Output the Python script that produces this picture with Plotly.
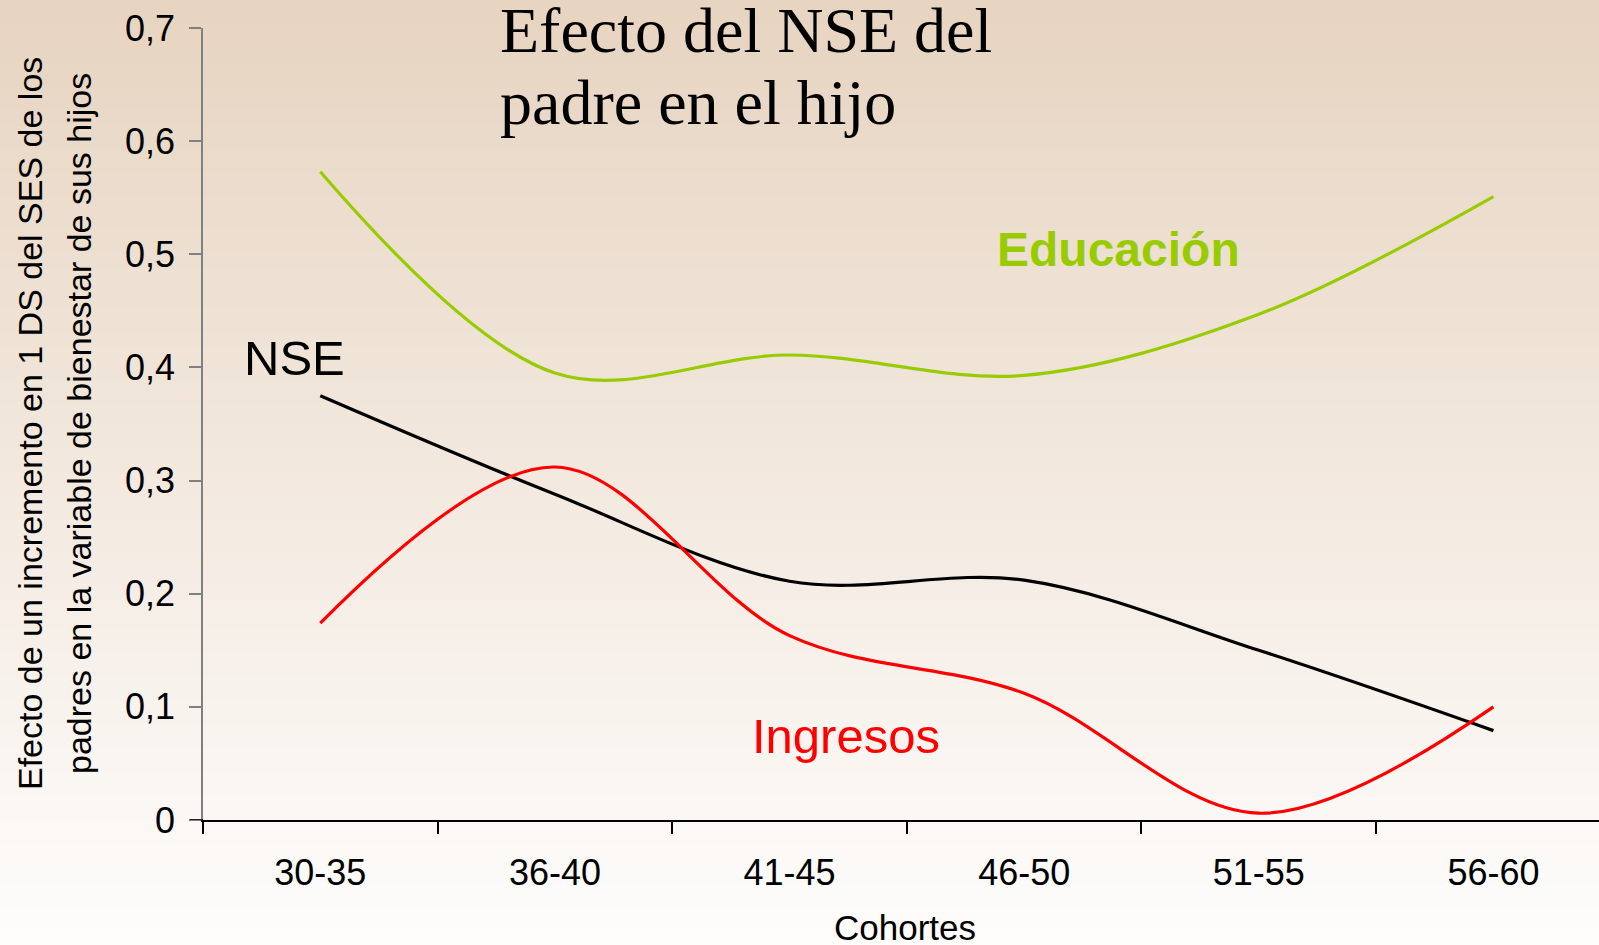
import plotly.graph_objects as go

cohortes = ["30-35", "36-40", "41-45", "46-50", "51-55", "56-60"]
educacion = [0.573, 0.395, 0.411, 0.393, 0.447, 0.551]
nse = [0.375, 0.288, 0.211, 0.212, 0.150, 0.079]
ingresos = [0.174, 0.312, 0.163, 0.112, 0.006, 0.100]

y_ticks = [0, 0.1, 0.2, 0.3, 0.4, 0.5, 0.6, 0.7]
y_ticktext = ["0", "0,1", "0,2", "0,3", "0,4", "0,5", "0,6", "0,7"]

W, H = 1599, 945
ML, MR, MT, MB = 203, 0, 28, 125
PW, PH = W - ML - MR, H - MT - MB

def px_x(p):
    return (p - ML) / PW

def px_y(p):
    return (H - MB - p) / PH

fig = go.Figure()
for vals, col in [(educacion, "#99CC00"), (nse, "#000000"), (ingresos, "#FF0000")]:
    fig.add_trace(go.Scatter(x=cohortes, y=vals, mode="lines",
                             line=dict(color=col, width=3.2, shape="spline", smoothing=1),
                             showlegend=False, hoverinfo="skip"))

# background gradient
shapes = []
N = 120
top = (231, 212, 193)
bot = (254, 253, 252)
for i in range(N):
    t = i / (N - 1)
    c = tuple(round(top[k] + (bot[k] - top[k]) * t) for k in range(3))
    y0 = H * i / N
    y1 = H * (i + 1) / N + 1
    shapes.append(dict(type="rect", xref="paper", yref="paper", layer="below",
                       x0=px_x(-2), x1=px_x(W + 2), y0=px_y(y1), y1=px_y(y0 - (2 if i == 0 else 0)),
                       line=dict(width=0), fillcolor="rgb(%d,%d,%d)" % c))
# black continuation of the x axis line to the left of the y axis
shapes.append(dict(type="line", xref="paper", yref="y", layer="above",
                   x0=px_x(190), x1=px_x(203), y0=0, y1=0,
                   line=dict(color="#000000", width=1.5)))

sans = "Liberation Sans, Arial, sans-serif"
serif = "Liberation Serif, Times New Roman, serif"
annotations = [
    dict(text="Efecto del NSE del", x=px_x(498), y=px_y(31), xanchor="left", yanchor="middle",
         font=dict(family=serif, size=64, color="#000000")),
    dict(text="padre en el hijo", x=px_x(498), y=px_y(102), xanchor="left", yanchor="middle",
         font=dict(family=serif, size=64, color="#000000")),
    dict(text="<b>Educación</b>", x=px_x(1118), y=px_y(249), xanchor="center", yanchor="middle",
         font=dict(family=sans, size=48, color="#99CC00")),
    dict(text="NSE", x=px_x(294), y=px_y(358), xanchor="center", yanchor="middle",
         font=dict(family=sans, size=49, color="#000000")),
    dict(text="Ingresos", x=px_x(846), y=px_y(736), xanchor="center", yanchor="middle",
         font=dict(family=sans, size=49, color="#FF0000")),
    dict(text="Cohortes", x=px_x(905), y=px_y(928), xanchor="center", yanchor="middle",
         font=dict(family=sans, size=35, color="#000000")),
    dict(text="Efecto de un incremento en 1 DS del SES de los", x=px_x(30), y=px_y(424),
         xanchor="center", yanchor="middle", textangle=-90,
         font=dict(family=sans, size=34, color="#000000")),
    dict(text="padres en la variable de bienestar de sus hijos", x=px_x(79), y=px_y(424),
         xanchor="center", yanchor="middle", textangle=-90,
         font=dict(family=sans, size=34, color="#000000")),
]
for a in annotations:
    a.update(xref="paper", yref="paper", showarrow=False)

fig.update_layout(
    width=W, height=H,
    margin=dict(l=ML, r=MR, t=MT, b=MB),
    paper_bgcolor="#FFFFFF",
    plot_bgcolor="rgba(0,0,0,0)",
    shapes=shapes,
    annotations=annotations,
    xaxis=dict(type="category", range=[-0.5, 5.45], tickson="boundaries",
               showline=True, linecolor="#000000", linewidth=1.5,
               ticks="outside", ticklen=12, tickcolor="#000000", tickwidth=1.5,
               showgrid=False, zeroline=False,
               tickfont=dict(family=sans, size=36, color="#000000"),
               ticklabelstandoff=20),
    yaxis=dict(range=[0, 0.7], tickvals=y_ticks, ticktext=y_ticktext,
               showline=True, linecolor="#808080", linewidth=1.5,
               ticks="outside", ticklen=12, tickcolor="#808080", tickwidth=1.5,
               showgrid=False, zeroline=False,
               tickfont=dict(family=sans, size=36, color="#000000"),
               ticklabelstandoff=7),
)

fig.write_html("out.html", config={"displayModeBar": False},
               post_script="document.body.style.margin='0px';document.body.style.overflow='hidden';")
